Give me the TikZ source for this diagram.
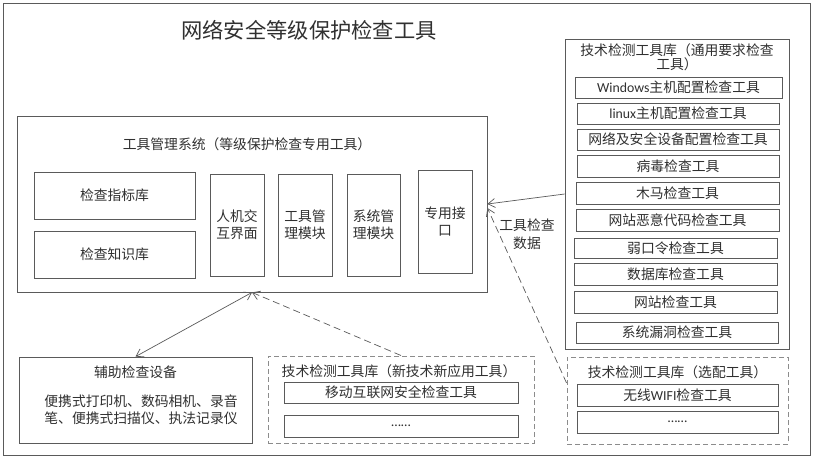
\documentclass[tikz,border=0pt]{standalone}
\usepackage{fontspec}
\setmainfont{Noto Sans CJK SC}
\newfontfamily\lat{Carlito}
\usetikzlibrary{arrows.meta,calc}
\definecolor{ln}{HTML}{5A5A5A}
\definecolor{dl}{HTML}{8C8C8C}
\definecolor{tx}{HTML}{303030}
\newcommand\fs{\fontsize{13.8pt}{17pt}\selectfont}
\begin{document}
\begin{tikzpicture}[x=1pt,y=-1pt,
  box/.style={draw=ln,line width=0.8pt,inner sep=0pt,text=tx,font=\fs,align=center},
  dbox/.style={draw=dl,line width=1pt,dash pattern=on 5pt off 3pt,inner sep=0pt},
  txt/.style={inner sep=0pt,text=tx,font=\fs,align=center},
  conn/.style={draw=ln,line width=0.7pt},
  tip/.style={-{Straight Barb[length=7pt,width=9pt]}},
  dtip/.style={{Straight Barb[length=7pt,width=9pt]}-{Straight Barb[length=7pt,width=9pt]}},
  dline/.style={dash pattern=on 7pt off 4pt}]
\fill[white] (0,0) rectangle (816,459);
\useasboundingbox (0,0) rectangle (816,459);
\draw[ln,line width=0.8pt] (3,3) rectangle (810,455);

\node[txt,font=\fontsize{21.3pt}{24pt}\selectfont] (title) at (309,30) {网络安全等级保护检查工具};

% tool management system
\node[box,minimum width=470pt,minimum height=176pt] (main) at (252,204) {};
\node[txt] (maint) at (247,144) {工具管理系统（等级保护检查专用工具）};
\node[box,minimum width=161pt,minimum height=47pt] (idx) at (114.5,195.5) {检查指标库};
\node[box,minimum width=161pt,minimum height=47pt] (know) at (114.5,254.5) {检查知识库};
\node[box,minimum width=54pt,minimum height=102pt] (hci) at (237,225) {人机交\\互界面};
\node[box,minimum width=54pt,minimum height=102pt] (tmm) at (305,225) {工具管\\理模块};
\node[box,minimum width=53pt,minimum height=102pt] (smm) at (373.5,225) {系统管\\理模块};
\node[box,minimum width=54pt,minimum height=103pt] (api) at (445,221.5) {专用接\\口};

% general tool library
\node[box,minimum width=224pt,minimum height=310pt] (gen) at (677,194) {};
\node[txt,font=\fontsize{13.8pt}{14.5pt}\selectfont] (gent) at (677,57.5) {技术检测工具库（通用要求检查\\工具）};
\node[box,minimum width=207pt,minimum height=21pt] (g1) at (678.5,87.5) {{\lat Windows}主机配置检查工具};
\node[box,minimum width=202pt,minimum height=21pt] (g2) at (678,113.5) {{\lat linux}主机配置检查工具};
\node[box,minimum width=202pt,minimum height=21pt] (g3) at (678,139.5) {网络及安全设备配置检查工具};
\node[box,minimum width=202pt,minimum height=22pt] (g4) at (678,166) {病毒检查工具};
\node[box,minimum width=203pt,minimum height=22pt] (g5) at (677.5,193) {木马检查工具};
\node[box,minimum width=203pt,minimum height=22pt] (g6) at (677.5,220) {网站恶意代码检查工具};
\node[box,minimum width=203pt,minimum height=20pt] (g7) at (675.5,248) {弱口令检查工具};
\node[box,minimum width=203pt,minimum height=22pt] (g8) at (675.5,274) {数据库检查工具};
\node[box,minimum width=203pt,minimum height=22pt] (g9) at (675.5,302) {网站检查工具};
\node[box,minimum width=202pt,minimum height=21pt] (g10) at (677,332.5) {系统漏洞检查工具};

% auxiliary devices
\node[box,minimum width=233pt,minimum height=86pt] (aux) at (135.5,400) {};
\node[txt] (auxt) at (135.5,372) {辅助检查设备};
\node[txt] (auxb) at (141,409.5) {便携式打印机、数码相机、录音\\笔、便携式扫描仪、执法记录仪};

% new technology library
\node[dbox,minimum width=266pt,minimum height=87pt] (newb) at (401,399.5) {};
\node[txt] (newt) at (399,371) {技术检测工具库（新技术新应用工具）};
\node[box,minimum width=234pt,minimum height=21pt] (n1) at (401,392.5) {移动互联网安全检查工具};
\node[box,minimum width=234pt,minimum height=22pt] (n2) at (401,426) {{\lat ……}};

% optional library
\node[dbox,minimum width=221pt,minimum height=87pt] (sel) at (677.5,400.5) {};
\node[txt] (selt) at (677.5,372) {技术检测工具库（选配工具）};
\node[box,minimum width=201pt,minimum height=22pt] (s1) at (677.5,395) {无线{\lat WIFI}检查工具};
\node[box,minimum width=201pt,minimum height=22pt] (s2) at (677.5,422) {{\lat ……}};

% connectors
\coordinate (selp) at ($(sel.north west)!0.3!(sel.south west)$);
\coordinate (mainp) at ($(main.east)+(0,4)$);
\draw[conn,dtip] (aux.north) -- (main.south);
\draw[conn,dline,tip] (newb.north) -- (main.south);
\draw[conn,tip] (gen.west) -- (main.east);
\draw[conn,dline,tip] (selp) -- (mainp);
\node[txt,font=\fontsize{13.8pt}{18pt}\selectfont] (lbl) at (527,234) {工具检查\\数据};
\end{tikzpicture}
\end{document}
